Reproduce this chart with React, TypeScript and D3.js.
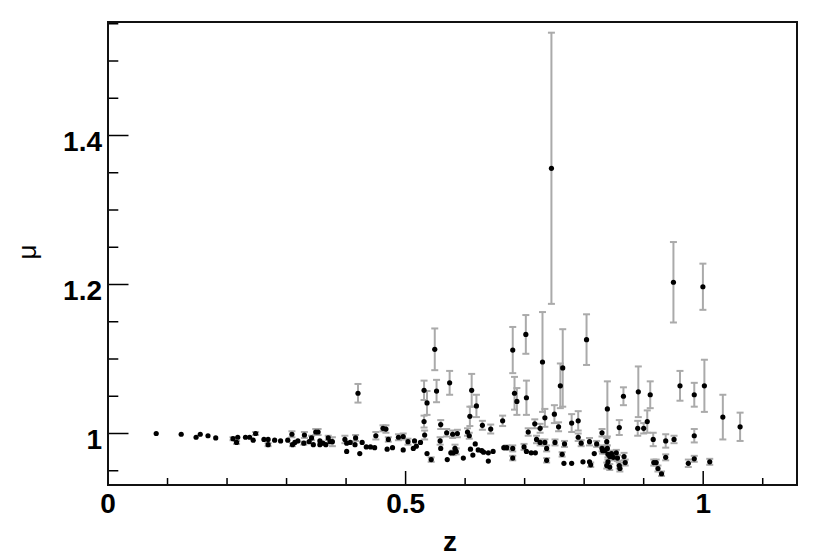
import React, { useRef, useEffect } from 'react';
import * as d3 from 'd3';

// redshift of each object
const zVals = [
  0.081, 0.123, 0.148, 0.155, 0.168, 0.181, 0.210, 0.216, 0.218, 0.231,
  0.238, 0.244, 0.248, 0.262, 0.269, 0.269, 0.280, 0.290, 0.302, 0.309,
  0.310, 0.314, 0.319, 0.329, 0.330, 0.338, 0.342, 0.345, 0.349, 0.353,
  0.356, 0.356, 0.361, 0.366, 0.370, 0.373, 0.377, 0.398, 0.401, 0.401,
  0.407, 0.415, 0.416, 0.420, 0.423, 0.427, 0.434, 0.441, 0.448, 0.450,
  0.462, 0.467, 0.469, 0.471, 0.478, 0.488, 0.496, 0.496, 0.504, 0.513,
  0.515, 0.518, 0.525, 0.531, 0.531, 0.532, 0.536, 0.536, 0.543, 0.549,
  0.552, 0.559, 0.558, 0.559, 0.569, 0.570, 0.574, 0.576, 0.579, 0.580,
  0.583, 0.587, 0.585, 0.597, 0.604, 0.607, 0.608, 0.609, 0.611, 0.613,
  0.617, 0.619, 0.622, 0.628, 0.629, 0.631, 0.639, 0.639, 0.643, 0.647,
  0.663, 0.665, 0.670, 0.680, 0.680, 0.680, 0.683, 0.687, 0.699, 0.702,
  0.703, 0.703, 0.706, 0.711, 0.718, 0.717, 0.720, 0.726, 0.726, 0.730,
  0.734, 0.734, 0.737, 0.737, 0.745, 0.750, 0.751, 0.757, 0.760, 0.764,
  0.763, 0.766, 0.767, 0.779, 0.779, 0.790, 0.790, 0.795, 0.798, 0.804,
  0.809, 0.809, 0.811, 0.817, 0.821, 0.830, 0.830, 0.839, 0.839, 0.840,
  0.840, 0.846, 0.859, 0.859, 0.866, 0.838, 0.835, 0.831, 0.843, 0.849,
  0.854, 0.856, 0.867, 0.869, 0.838, 0.843, 0.860, 0.890, 0.891, 0.900,
  0.906, 0.911, 0.916, 0.917, 0.921, 0.924, 0.930, 0.937, 0.937, 0.950,
  0.951, 0.961, 0.975, 0.985, 0.985, 0.985, 0.9995, 1.002, 1.011, 1.033,
  1.062,
];

// magnification
const muVals = [
  1.000, 0.999, 0.995, 0.999, 0.997, 0.994, 0.993, 0.988, 0.995, 0.995,
  0.995, 0.991, 1.000, 0.992, 0.985, 0.992, 0.991, 0.990, 0.991, 0.999,
  0.985, 0.988, 0.990, 0.987, 0.998, 0.989, 0.994, 0.985, 1.002, 1.002,
  0.990, 0.985, 0.987, 0.985, 0.994, 0.989, 0.989, 0.992, 0.976, 0.987,
  0.988, 0.985, 0.994, 1.054, 0.973, 0.988, 0.982, 0.982, 0.981, 0.997,
  1.007, 1.006, 0.979, 0.992, 0.981, 0.995, 0.996, 0.978, 0.989, 0.980,
  0.990, 0.983, 0.988, 1.058, 1.016, 0.998, 1.041, 0.973, 0.965, 1.113,
  1.057, 1.012, 0.990, 0.980, 1.001, 0.965, 1.068, 0.974, 0.999, 0.974,
  0.980, 1.000, 0.976, 0.967, 1.002, 0.997, 1.023, 0.979, 1.058, 0.971,
  0.986, 1.037, 0.978, 0.977, 1.011, 0.975, 0.974, 0.963, 1.006, 0.976,
  1.017, 0.981, 0.981, 1.112, 0.980, 0.967, 1.054, 1.043, 0.982, 1.133,
  1.048, 0.976, 1.002, 0.974, 0.974, 1.013, 0.992, 1.007, 0.988, 1.096,
  1.021, 0.988, 0.964, 0.980, 1.356, 1.026, 0.988, 1.009, 1.064, 1.088,
  0.972, 0.960, 0.986, 1.014, 0.960, 1.017, 0.995, 0.987, 0.962, 1.126,
  0.989, 0.962, 0.958, 0.973, 0.986, 1.001, 0.980, 1.033, 0.980, 0.972,
  0.962, 0.973, 1.008, 0.957, 1.050, 0.989, 0.977, 0.977, 0.969, 0.968,
  0.974, 0.967, 0.969, 0.961, 0.957, 0.955, 0.953, 1.007, 1.056, 1.007,
  1.016, 1.052, 0.992, 0.961, 0.961, 0.953, 0.946, 0.990, 0.968, 1.203,
  0.992, 1.064, 0.960, 1.052, 0.997, 0.966, 1.197, 1.064, 0.962, 1.022,
  1.009,
];

// symmetric error on mu
const muErr = [
  0, 0, 0, 0, 0, 0, 0.002, 0.002, 0, 0,
  0, 0, 0.002, 0, 0.002, 0, 0, 0, 0, 0.004,
  0.002, 0, 0, 0.002, 0.004, 0, 0.003, 0, 0.004, 0.004,
  0, 0, 0, 0, 0.003, 0, 0.006, 0.005, 0, 0,
  0, 0, 0.004, 0.0125, 0, 0, 0, 0, 0, 0.005,
  0.004, 0.005, 0, 0.003, 0, 0.004, 0.004, 0, 0.004, 0,
  0, 0, 0, 0.013, 0.008, 0.006, 0.016, 0, 0.003, 0.028,
  0.015, 0.006, 0.005, 0, 0.005, 0, 0.016, 0, 0.005, 0.003,
  0.005, 0.005, 0.004, 0, 0.005, 0.004, 0.013, 0, 0.022, 0,
  0, 0.015, 0, 0, 0.006, 0, 0, 0, 0.006, 0,
  0.007, 0, 0.003, 0.031, 0.004, 0.003, 0.022, 0.018, 0.004, 0.026,
  0.023, 0, 0.005, 0, 0, 0.006, 0.005, 0.006, 0.004, 0.067,
  0.012, 0.004, 0.003, 0.004, 0.182, 0.012, 0.004, 0.006, 0.030, 0.052,
  0.003, 0, 0.004, 0.012, 0, 0.013, 0.005, 0.004, 0, 0.034,
  0.005, 0, 0.003, 0, 0.004, 0.005, 0.004, 0.037, 0.004, 0.004,
  0.003, 0.004, 0.010, 0.004, 0.012, 0.005, 0.004, 0.004, 0.004, 0.004,
  0.004, 0.004, 0.005, 0.004, 0.004, 0.004, 0.004, 0.010, 0.034, 0.007,
  0.015, 0.018, 0.009, 0.004, 0.004, 0.004, 0.003, 0.009, 0.004, 0.054,
  0.005, 0.020, 0.005, 0.016, 0.009, 0.004, 0.031, 0.035, 0.004, 0.030,
  0.019,
];

const xMajorTicks = [0, 0.5, 1];
const xTickLabels = ['0', '0.5', '1'];
const yMajorTicks = [1, 1.2, 1.4];
const yTickLabels = ['1', '1.2', '1.4'];

const W = 830;
const H = 558;
const frame = { left: 108, right: 797, top: 22, bottom: 485 };
const FONT = '"Liberation Sans", Arial, Helvetica, sans-serif';

export default function App() {
  const svgRef = useRef<SVGSVGElement | null>(null);

  useEffect(() => {
    const xScale = d3.scaleLinear().domain([0, 1.1576]).range([frame.left, frame.right]);
    const yScale = d3
      .scaleLinear()
      .domain([1 - (frame.bottom - 433.5) / 745, 1 + (433.5 - frame.top) / 745])
      .range([frame.bottom, frame.top]);

    const svg = d3.select(svgRef.current);
    svg.selectAll('*').remove();

    svg.append('rect').attr('width', W).attr('height', H).attr('fill', 'white');

    const data = zVals.map((z, i) => ({ z, mu: muVals[i], err: muErr[i] }));

    // error bars
    const bars = svg.append('g').attr('stroke', '#aaaaaa').attr('stroke-width', 2);
    data
      .filter((d) => d.err > 0)
      .forEach((d) => {
        const x = xScale(d.z);
        const y0 = yScale(d.mu - d.err);
        const y1 = yScale(d.mu + d.err);
        bars.append('line').attr('x1', x).attr('x2', x).attr('y1', y0).attr('y2', y1);
        bars.append('line').attr('x1', x - 3.5).attr('x2', x + 3.5).attr('y1', y0).attr('y2', y0);
        bars.append('line').attr('x1', x - 3.5).attr('x2', x + 3.5).attr('y1', y1).attr('y2', y1);
      });

    // markers
    svg
      .append('g')
      .selectAll('circle')
      .data(data)
      .enter()
      .append('circle')
      .attr('cx', (d) => xScale(d.z))
      .attr('cy', (d) => yScale(d.mu))
      .attr('r', 2.6)
      .attr('fill', 'black');

    // ticks (ROOT style, pointing inwards)
    const axes = svg.append('g').attr('stroke', 'black').attr('stroke-width', 1.5);
    const xMinor = d3.range(0, 1.16, 0.1);
    xMinor.forEach((t) => {
      const major = xMajorTicks.some((m) => Math.abs(m - t) < 1e-6);
      const x = xScale(t);
      axes.append('line').attr('x1', x).attr('x2', x).attr('y1', frame.bottom).attr('y2', frame.bottom - (major ? 14 : 7));
    });
    const yMinor = d3.range(0.95, 1.56, 0.05);
    yMinor.forEach((t) => {
      const major = yMajorTicks.some((m) => Math.abs(m - t) < 1e-6);
      const y = yScale(t);
      axes.append('line').attr('x1', frame.left).attr('x2', frame.left + (major ? 20.5 : 10.3)).attr('y1', y).attr('y2', y);
    });

    // frame
    svg
      .append('rect')
      .attr('x', frame.left)
      .attr('y', frame.top)
      .attr('width', frame.right - frame.left)
      .attr('height', frame.bottom - frame.top)
      .attr('fill', 'none')
      .attr('stroke', '#111')
      .attr('stroke-width', 2);

    // tick labels
    xMajorTicks.forEach((t, i) => {
      svg
        .append('text')
        .attr('x', xScale(t))
        .attr('y', frame.bottom + 28)
        .attr('text-anchor', 'middle')
        .attr('font-family', FONT)
        .attr('font-weight', 'bold')
        .attr('font-size', 28)
        .text(xTickLabels[i]);
    });
    yMajorTicks.forEach((t, i) => {
      svg
        .append('text')
        .attr('x', frame.left - 6)
        .attr('y', yScale(t) + 15)
        .attr('text-anchor', 'end')
        .attr('font-family', FONT)
        .attr('font-weight', 'bold')
        .attr('font-size', 28)
        .text(yTickLabels[i]);
    });

    // axis titles
    svg
      .append('text')
      .attr('x', 450)
      .attr('y', 551)
      .attr('text-anchor', 'middle')
      .attr('font-family', FONT)
      .attr('font-weight', 'bold')
      .attr('font-size', 28)
      .text('z');
    svg
      .append('text')
      .attr('transform', 'translate(36,252) rotate(-90)')
      .attr('text-anchor', 'middle')
      .attr('font-family', FONT)
      .attr('font-size', 26)
      .text('μ');
  }, []);

  return (
    <svg
      ref={svgRef}
      width={W}
      height={H}
      style={{ position: 'absolute', left: 0, top: 0, display: 'block' }}
    />
  );
}
